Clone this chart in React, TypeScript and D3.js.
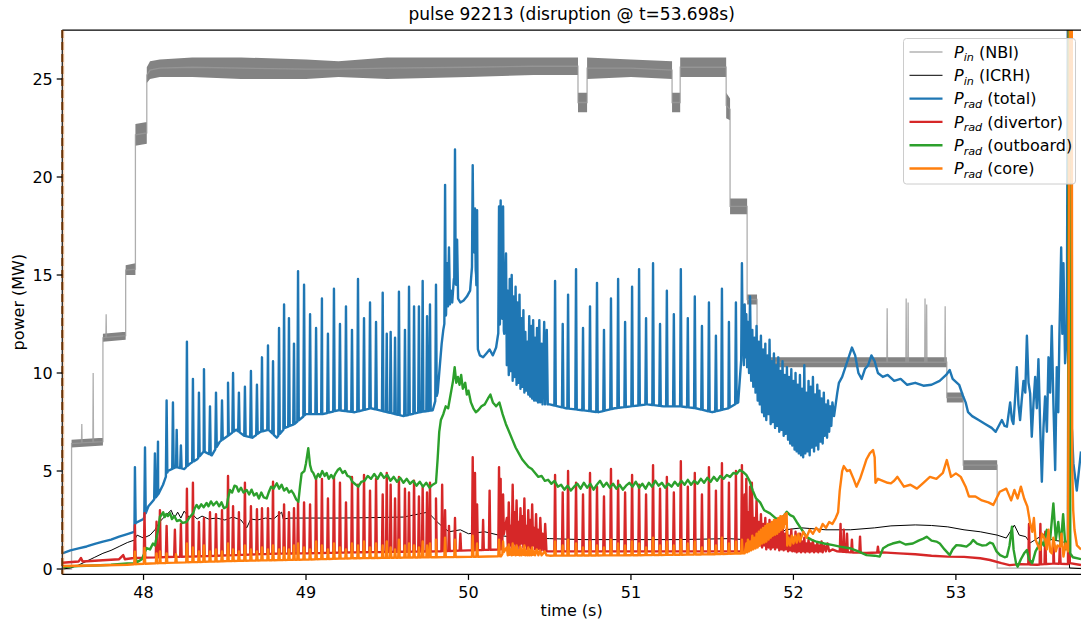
import React from "react";
import * as d3 from "d3";

type P = [number, number];

// ---------------- data ----------------
const title = "pulse 92213 (disruption @ t=53.698s)";
const xTicks = [48, 49, 50, 51, 52, 53];
const yTicks = [0, 5, 10, 15, 20, 25];

// NBI: [t, low, high] envelope of the modulated signal
const nbiBand: [number, number, number][] = [
  [47.5, 0, 0], [47.557, 0, 0], [47.557, 6.2, 6.6], [47.75, 6.3, 6.7],
  [47.75, 11.6, 12.0], [47.89, 11.7, 12.1], [47.89, 15.0, 15.5], [47.95, 15.0, 15.6],
  [47.95, 21.6, 22.7], [48.02, 21.7, 22.8], [48.02, 24.8, 25.6], [48.04, 25.0, 25.9],
  [48.1, 25.1, 26.0], [48.3, 25.1, 26.1], [48.6, 25.0, 26.1], [49.0, 25.0, 26.0],
  [49.2, 25.1, 25.9], [49.5, 25.0, 26.1], [50.0, 25.1, 26.1], [50.4, 25.2, 26.1],
  [50.674, 25.2, 26.1], [50.674, 23.3, 24.3], [50.73, 23.3, 24.3], [50.73, 25.0, 26.1],
  [51.0, 25.1, 26.0], [51.253, 25.0, 25.9], [51.253, 23.3, 24.3], [51.303, 23.3, 24.3],
  [51.303, 25.1, 26.1], [51.586, 25.1, 26.1], [51.586, 23.0, 24.3], [51.61, 22.9, 24.0],
  [51.61, 18.1, 18.9], [51.715, 18.1, 18.9], [51.715, 13.5, 14.0], [51.776, 13.5, 14.0],
  [51.776, 10.3, 10.8], [52.944, 10.3, 10.8], [52.944, 8.5, 9.0], [53.045, 8.5, 9.0],
  [53.045, 5.05, 5.55], [53.254, 5.05, 5.55], [53.254, 0.05, 0.05], [53.77, 0.05, 0.05],
];
const nbiSpikes: P[] = [
  [47.62, 7.4], [47.69, 10.0], [47.77, 13.0], [52.577, 13.3], [52.694, 13.8],
  [52.706, 13.6], [52.81, 13.8], [52.82, 13.5], [52.934, 13.4],
];

const icrh: P[] = [
  [47.5, 0.0], [47.55, 0.05], [47.6, 0.2], [47.65, 0.4], [47.7, 0.6], [47.75, 0.8], [47.8, 0.95],
  [47.85, 1.15], [47.9, 1.35], [47.945, 1.48], [47.96, 1.73], [48.0, 1.58], [48.04, 1.73],
  [48.07, 2.0], [48.1, 2.41], [48.14, 2.76], [48.17, 3.0], [48.19, 2.6], [48.21, 2.9],
  [48.23, 2.6], [48.25, 2.95], [48.28, 2.65], [48.3, 2.8], [48.33, 2.55], [48.36, 2.7],
  [48.4, 2.55], [48.45, 2.6], [48.5, 2.5], [48.55, 2.65], [48.6, 2.5], [48.635, 2.1],
  [48.66, 2.55], [48.7, 2.5], [48.75, 2.6], [48.8, 2.55], [48.85, 2.9], [48.86, 2.55],
  [48.9, 2.6], [49.0, 2.6], [49.2, 2.6], [49.4, 2.62], [49.6, 2.65], [49.75, 2.9],
  [49.82, 2.3], [49.88, 1.9], [49.95, 2.0], [50.0, 1.8], [50.1, 1.9], [50.2, 1.7],
  [50.3, 1.6], [50.5, 1.55], [50.7, 1.5], [51.0, 1.5], [51.3, 1.5], [51.6, 1.55],
  [51.7, 1.5], [51.9, 1.6], [51.95, 2.0], [52.05, 2.1], [52.2, 2.0], [52.35, 2.0],
  [52.5, 2.1], [52.6, 2.2], [52.75, 2.25], [52.85, 2.22], [52.95, 2.15], [53.05, 2.0],
  [53.15, 1.9], [53.254, 1.73], [53.31, 1.58], [53.36, 2.24], [53.39, 1.73], [53.43, 1.65],
  [53.457, 1.33], [53.518, 1.65], [53.55, 1.83], [53.59, 1.48], [53.66, 1.4], [53.69, 1.14],
  [53.70, 0.05], [53.77, 0.02],
];

// regular ELM times with the peak of each radiated-power channel
const elmTimes = [
  48.267, 48.304, 48.341, 48.372, 48.409, 48.446, 48.483, 48.52, 48.551, 48.587, 48.624,
  48.661, 48.698, 48.729, 48.766, 48.797, 48.834, 48.865, 48.895, 48.926, 48.951, 48.988,
  49.025, 49.062, 49.098, 49.135, 49.172, 49.209, 49.246, 49.283, 49.32, 49.357, 49.394,
  49.431, 49.472, 49.497, 49.521, 49.548, 49.572, 49.609, 49.634, 49.665, 49.695, 49.718,
  49.745, 49.763, 49.8, 50.533, 50.58, 50.613, 50.662, 50.705, 50.748, 50.791, 50.834,
  50.877, 50.921, 50.964, 51.007, 51.05, 51.093, 51.136, 51.179, 51.221, 51.264, 51.307,
  51.35, 51.393, 51.437, 51.48, 51.523, 51.56, 51.603, 51.646, 51.683,
];
const blueElmPeak = [
  11.6, 9.7, 9.0, 10.2, 8.3, 9.0, 8.6, 9.5, 10.0, 9.0, 9.3, 10.1, 9.4, 10.8, 11.4, 10.6,
  12.3, 13.5, 12.8, 11.5, 15.2, 14.5, 13.0, 12.3, 13.8, 12.0, 14.3, 12.5, 13.4, 12.2, 14.8,
  12.8, 13.6, 12.6, 14.1, 12.0, 12.1, 11.8, 14.15, 12.2, 14.4, 13.4, 13.4, 14.7, 12.9, 13.5,
  14.5, 14.7, 12.5, 14.0, 15.3, 12.3, 13.4, 14.6, 12.2, 13.8, 14.8, 12.6, 14.4, 15.3, 12.8,
  15.6, 12.5, 14.2, 13.0, 15.3, 12.8, 13.9, 12.4, 13.6, 11.9, 14.3, 12.6, 13.6, 15.6,
];
const redElmPeak = [
  4.1, 4.4, 2.4, 2.6, 2.9, 2.8, 3.0, 4.75, 3.2, 2.9, 4.4, 3.2, 3.05, 3.1, 3.1, 4.45, 2.9,
  3.3, 2.9, 3.1, 3.4, 3.4, 3.3, 4.7, 4.6, 3.6, 4.7, 4.4, 3.4, 4.7, 4.3, 4.8, 4.0, 4.6, 3.8,
  4.9, 4.3, 3.6, 4.7, 4.1, 3.9, 4.5, 3.7, 4.2, 3.9, 4.4, 3.6, 4.8, 3.9, 5.0, 4.4, 3.8, 4.9,
  4.2, 3.7, 5.1, 4.5, 3.9, 4.8, 4.3, 3.8, 5.3, 4.1, 4.7, 3.9, 5.5, 4.2, 4.9, 3.8, 5.2, 4.0,
  5.4, 4.4, 5.0, 5.3,
];
const orangeElmPeak = [
  1.3, 1.1, 0.9, 1.2, 0.9, 1.0, 0.9, 1.3, 1.0, 0.9, 1.2, 1.0, 0.9, 1.1, 1.0, 1.2, 1.0, 1.1,
  1.0, 1.2, 1.3, 1.1, 1.0, 1.4, 1.2, 1.0, 1.3, 1.1, 1.0, 1.3, 1.2, 1.4, 1.1, 1.3, 1.2, 1.4,
  1.1, 1.0, 1.5, 1.2, 1.3, 1.2, 1.1, 1.4, 1.2, 1.3, 1.5, 1.4, 1.2, 1.5, 1.3, 1.1, 1.4, 1.2,
  1.1, 1.5, 1.3, 1.2, 1.4, 1.3, 1.1, 1.6, 1.2, 1.4, 1.2, 1.5, 1.3, 1.4, 1.1, 1.5, 1.2, 1.6,
  1.3, 1.4, 1.5,
];

// other individual spikes
const blueExtraSpikes: P[] = [
  [47.947, 5.2], [48.009, 6.2], [48.07, 5.9], [48.089, 6.5], [48.142, 8.6], [48.181, 8.5],
  [48.204, 7.1], [48.23, 6.3], [49.856, 19.6], [49.917, 21.4], [50.026, 20.6], [50.04, 18.4],
  [50.053, 18.3], [50.188, 18.5], [50.198, 18.8], [50.213, 18.5],
];
const redExtraSpikes: P[] = [
  [47.947, 2.24], [48.006, 2.85], [48.08, 2.41], [48.101, 3.0], [48.142, 2.2], [48.193, 2.0],
  [48.23, 2.3], [49.838, 4.3], [49.856, 3.0], [49.88, 2.2], [49.917, 2.6], [49.95, 1.8],
  [50.026, 5.7], [50.04, 4.9], [50.053, 3.3], [50.09, 2.5], [50.13, 4.0], [50.188, 5.2],
  [50.198, 4.6], [50.213, 3.8], [51.744, 4.4], [52.29, 2.3], [52.31, 2.0], [52.33, 1.8],
  [52.36, 1.5], [52.41, 1.65], [52.52, 1.14], [53.45, 2.3], [53.52, 2.3], [53.55, 1.9],
  [53.6, 1.5], [53.64, 1.2],
];
const orangeExtraSpikes: P[] = [
  [47.947, 0.88], [48.006, 1.07], [48.08, 0.8], [48.101, 0.9], [48.142, 0.8], [48.2, 0.75],
  [49.856, 1.6], [49.917, 1.5], [50.026, 1.7], [50.053, 1.3], [50.188, 1.5], [50.213, 1.4],
];

const blueBase: P[] = [
  [47.5, 0.8], [47.55, 0.95], [47.6, 1.05], [47.65, 1.15], [47.7, 1.28], [47.75, 1.4],
  [47.8, 1.5], [47.85, 1.65], [47.9, 1.78], [47.944, 1.9], [47.952, 2.35], [48.0, 2.55],
  [48.03, 3.2], [48.06, 3.5], [48.09, 3.8], [48.12, 4.3], [48.15, 5.0], [48.2, 5.2],
  [48.25, 5.1], [48.29, 5.4], [48.33, 5.6], [48.37, 6.0], [48.42, 5.8], [48.47, 6.5],
  [48.52, 6.8], [48.57, 7.1], [48.62, 6.8], [48.67, 6.7], [48.72, 7.0], [48.77, 7.1],
  [48.82, 6.7], [48.87, 7.2], [48.93, 7.4], [49.0, 7.9], [49.1, 7.9], [49.2, 8.1], [49.3, 8.0],
  [49.4, 8.2], [49.5, 8.0], [49.6, 7.8], [49.7, 8.0], [49.78, 8.1], [49.81, 9.0], [49.825, 10.5],
  [49.835, 11.5], [49.845, 12.2], [49.862, 13.0], [49.868, 15.6], [49.874, 13.4], [49.88, 16.4],
  [49.886, 13.5], [49.892, 14.2], [49.9, 13.6], [49.91, 14.8], [49.924, 14.5], [49.93, 16.8],
  [49.936, 13.8], [49.95, 13.6], [49.97, 13.7], [49.99, 13.9], [50.01, 14.2], [50.032, 16.5],
  [50.047, 15.0], [50.058, 11.2], [50.07, 10.9], [50.09, 10.8], [50.11, 11.0], [50.13, 11.2],
  [50.15, 10.9], [50.17, 11.3], [50.18, 11.85], [50.193, 12.5], [50.205, 13.0], [50.22, 12.0],
  [50.231, 16.1], [50.236, 10.4], [50.242, 14.2], [50.248, 9.9], [50.254, 14.8], [50.26, 10.1],
  [50.266, 15.0], [50.272, 9.6], [50.278, 13.9], [50.284, 9.8], [50.29, 14.4], [50.296, 9.4],
  [50.302, 13.6], [50.308, 9.5], [50.314, 14.0], [50.32, 9.2], [50.326, 12.8], [50.332, 9.3],
  [50.338, 13.2], [50.344, 9.0], [50.35, 12.1], [50.356, 9.1], [50.362, 11.6], [50.368, 8.9],
  [50.374, 12.9], [50.38, 8.8], [50.386, 12.4], [50.392, 8.7], [50.398, 12.7], [50.404, 8.6],
  [50.41, 11.8], [50.416, 8.6], [50.422, 12.3], [50.428, 8.5], [50.436, 12.7], [50.442, 8.5],
  [50.45, 11.5], [50.456, 8.4], [50.466, 12.6], [50.472, 8.4], [50.482, 12.2], [50.488, 8.4],
  [50.5, 8.4], [50.6, 8.2], [50.7, 8.1], [50.8, 8.0], [50.9, 8.2], [51.0, 8.3], [51.1, 8.4],
  [51.2, 8.3], [51.3, 8.3], [51.4, 8.2], [51.5, 8.0], [51.6, 8.2], [51.66, 8.5], [51.69, 12.0],
  [51.695, 10.4], [51.7, 13.5], [51.705, 10.8], [51.71, 13.0], [51.715, 10.3], [51.72, 12.6],
  [51.727, 10.0], [51.733, 13.9], [51.74, 9.6], [51.747, 12.2], [51.753, 9.3], [51.76, 11.8],
  [51.767, 9.0], [51.773, 12.4], [51.78, 8.6], [51.787, 11.6], [51.793, 8.4], [51.8, 11.9],
  [51.807, 8.0], [51.813, 11.2], [51.82, 7.8], [51.827, 11.5], [51.833, 7.6], [51.84, 10.9],
  [51.847, 7.9], [51.853, 11.7], [51.86, 7.4], [51.867, 10.6], [51.873, 7.5], [51.88, 11.0],
  [51.887, 7.2], [51.893, 10.4], [51.9, 7.3], [51.907, 10.8], [51.913, 7.0], [51.92, 10.1],
  [51.927, 7.1], [51.933, 10.6], [51.94, 6.8], [51.947, 9.9], [51.953, 6.9], [51.96, 10.3],
  [51.967, 6.6], [51.973, 9.8], [51.98, 6.4], [51.987, 10.2], [51.993, 6.3], [52.0, 9.6],
  [52.007, 6.1], [52.013, 10.0], [52.02, 6.0], [52.027, 9.4], [52.033, 5.9], [52.04, 9.9],
  [52.047, 5.8], [52.053, 9.2], [52.06, 5.7], [52.067, 10.4], [52.073, 5.9], [52.08, 9.0],
  [52.087, 6.0], [52.093, 9.6], [52.1, 5.8], [52.107, 9.3], [52.113, 6.2], [52.12, 9.8],
  [52.127, 6.0], [52.133, 8.9], [52.14, 6.3], [52.147, 9.4], [52.153, 6.1], [52.16, 9.1],
  [52.167, 6.5], [52.173, 8.7], [52.18, 6.4], [52.187, 9.0], [52.193, 6.8], [52.2, 8.4],
  [52.207, 6.7], [52.213, 8.6], [52.22, 7.0], [52.227, 8.3], [52.233, 7.3], [52.24, 8.5],
  [52.25, 7.8], [52.26, 8.4], [52.27, 9.0], [52.28, 9.5], [52.3, 9.8], [52.32, 10.3],
  [52.34, 10.8], [52.36, 11.3], [52.38, 10.9], [52.4, 10.0], [52.42, 9.7], [52.44, 10.2],
  [52.46, 10.4], [52.48, 10.9], [52.5, 10.6], [52.52, 10.0], [52.55, 9.8], [52.58, 9.9],
  [52.62, 9.6], [52.66, 9.7], [52.7, 9.4], [52.75, 9.5], [52.8, 9.35], [52.85, 9.4],
  [52.9, 9.6], [52.94, 9.9], [52.962, 10.15], [52.98, 9.7], [53.02, 9.4], [53.045, 8.8],
  [53.06, 8.5], [53.075, 8.0], [53.1, 7.8], [53.14, 7.6], [53.18, 7.4], [53.22, 7.2],
  [53.245, 7.0], [53.27, 7.4], [53.283, 7.6], [53.3, 7.3], [53.314, 7.26], [53.334, 8.5],
  [53.345, 7.6], [53.354, 7.4], [53.365, 8.8], [53.375, 10.3], [53.385, 8.4], [53.395, 7.6],
  [53.405, 8.6], [53.416, 9.6], [53.427, 9.0], [53.437, 11.9], [53.447, 9.5], [53.457, 8.96],
  [53.467, 6.75], [53.478, 8.5], [53.488, 9.8], [53.498, 8.2], [53.508, 10.7], [53.518, 7.5],
  [53.529, 4.45], [53.539, 7.2], [53.549, 8.8], [53.56, 7.0], [53.57, 10.8], [53.58, 9.0],
  [53.59, 12.4], [53.6, 8.5], [53.611, 5.05], [53.621, 10.3], [53.63, 8.0], [53.637, 11.85],
  [53.648, 16.4], [53.655, 12.0], [53.662, 15.6], [53.672, 10.5], [53.683, 12.2],
  [53.693, 40], [53.699, 40], [53.706, 8.0], [53.715, 7.0], [53.723, 5.4], [53.744, 4.0],
  [53.77, 6.0],
];

const redBase: P[] = [
  [47.5, 0.32], [47.6, 0.38], [47.615, 0.56], [47.625, 0.38], [47.75, 0.45], [47.85, 0.5],
  [47.875, 0.71], [47.885, 0.5], [47.94, 0.56], [48.0, 0.58], [48.2, 0.62], [48.4, 0.66],
  [48.6, 0.72], [48.8, 0.78], [49.0, 0.8], [49.3, 0.85], [49.6, 0.88], [49.8, 0.9],
  [50.0, 0.95], [50.2, 1.0], [50.236, 2.6], [50.242, 1.1], [50.248, 3.4], [50.254, 1.2],
  [50.26, 2.2], [50.266, 1.0], [50.272, 4.3], [50.278, 1.3], [50.284, 2.9], [50.29, 1.1],
  [50.296, 3.5], [50.302, 1.2], [50.308, 2.4], [50.314, 1.0], [50.32, 3.1], [50.326, 1.3],
  [50.332, 2.7], [50.338, 1.1], [50.344, 3.6], [50.35, 1.2], [50.356, 2.2], [50.362, 1.0],
  [50.368, 3.0], [50.374, 1.1], [50.38, 2.5], [50.386, 1.0], [50.392, 3.3], [50.398, 1.2],
  [50.404, 2.1], [50.41, 1.0], [50.416, 2.8], [50.422, 1.0], [50.428, 2.0], [50.436, 1.0],
  [50.442, 2.6], [50.45, 0.95], [50.456, 1.8], [50.466, 0.95], [50.472, 2.3], [50.48, 0.9],
  [50.5, 0.9], [51.0, 0.9], [51.5, 0.9], [51.69, 0.9], [51.7, 3.8], [51.705, 1.0], [51.71, 4.6],
  [51.715, 1.1], [51.72, 2.9], [51.727, 1.2], [51.733, 4.2], [51.74, 1.3], [51.747, 3.1],
  [51.753, 1.2], [51.76, 2.6], [51.767, 1.3], [51.773, 3.5], [51.78, 1.2], [51.787, 2.4],
  [51.793, 1.2], [51.8, 2.8], [51.807, 1.1], [51.813, 2.3], [51.82, 1.2], [51.827, 2.6],
  [51.833, 1.0], [51.84, 2.2], [51.847, 1.1], [51.853, 2.5], [51.86, 1.0], [51.867, 2.1],
  [51.873, 1.1], [51.88, 2.4], [51.887, 1.0], [51.893, 2.0], [51.9, 1.1], [51.907, 2.3],
  [51.913, 0.95], [51.92, 1.9], [51.927, 1.0], [51.933, 2.2], [51.94, 0.95], [51.947, 1.8],
  [51.953, 1.0], [51.96, 2.1], [51.967, 0.9], [51.973, 1.7], [51.98, 0.95], [51.987, 2.0],
  [51.993, 0.9], [52.0, 1.6], [52.007, 0.9], [52.013, 1.9], [52.02, 0.85], [52.027, 1.5],
  [52.033, 0.9], [52.04, 1.8], [52.047, 0.85], [52.053, 1.4], [52.06, 0.9], [52.067, 1.6],
  [52.073, 0.85], [52.08, 1.3], [52.087, 0.9], [52.093, 1.5], [52.1, 0.85], [52.107, 1.3],
  [52.113, 0.9], [52.12, 1.45], [52.127, 0.85], [52.133, 1.2], [52.14, 0.9], [52.147, 1.35],
  [52.153, 0.85], [52.16, 1.2], [52.167, 0.9], [52.173, 1.4], [52.18, 0.85], [52.19, 1.2],
  [52.2, 0.9], [52.21, 1.3], [52.22, 0.9], [52.24, 1.0], [52.27, 0.9], [52.35, 0.85],
  [52.45, 0.82], [52.55, 0.85], [52.65, 0.8], [52.75, 0.75], [52.85, 0.68], [52.95, 0.63],
  [53.05, 0.62], [53.15, 0.55], [53.21, 0.46], [53.28, 0.3], [53.33, 0.2], [53.4, 0.25],
  [53.5, 0.22], [53.6, 0.28], [53.69, 0.25], [53.695, 40], [53.698, 40], [53.701, 0.3],
  [53.77, 0.2],
];

const greenLine: P[] = [
  [47.5, 0.1], [47.6, 0.15], [47.7, 0.18], [47.8, 0.22], [47.9, 0.28], [47.945, 0.3],
  [47.95, 0.55], [47.96, 0.35], [47.99, 0.5], [48.01, 0.9], [48.019, 1.07], [48.04, 1.0],
  [48.058, 1.3], [48.07, 1.2], [48.081, 1.65], [48.09, 2.0], [48.101, 2.67], [48.11, 2.75],
  [48.121, 2.9], [48.13, 2.65], [48.14, 2.8], [48.15, 2.7], [48.163, 2.85], [48.175, 2.55],
  [48.19, 2.7], [48.205, 2.45], [48.224, 2.5], [48.24, 2.35], [48.265, 2.4], [48.28, 2.6],
  [48.306, 2.85], [48.315, 3.1], [48.327, 3.27], [48.34, 3.1], [48.355, 3.3], [48.37, 3.15],
  [48.388, 3.37], [48.4, 3.2], [48.415, 3.45], [48.43, 3.25], [48.45, 3.43], [48.465, 3.2],
  [48.48, 3.4], [48.495, 3.1], [48.512, 3.18], [48.52, 3.6], [48.532, 4.03], [48.545, 3.9],
  [48.56, 4.25], [48.573, 4.2], [48.585, 3.95], [48.6, 4.15], [48.615, 3.9], [48.635, 4.03],
  [48.65, 3.8], [48.665, 4.05], [48.68, 3.75], [48.696, 3.87], [48.71, 3.6], [48.725, 3.9],
  [48.74, 3.65], [48.758, 3.6], [48.77, 3.9], [48.785, 4.2], [48.8, 4.1], [48.82, 4.37],
  [48.835, 4.1], [48.85, 4.3], [48.865, 4.0], [48.881, 4.13], [48.895, 3.9], [48.91, 4.0],
  [48.922, 3.86], [48.94, 3.55], [48.953, 3.43], [48.963, 4.2], [48.973, 4.88], [48.99, 5.0],
  [49.0, 5.4], [49.014, 6.16], [49.025, 5.3], [49.035, 5.0], [49.045, 4.9], [49.06, 4.6],
  [49.075, 4.85], [49.086, 4.7], [49.1, 5.0], [49.115, 4.75], [49.127, 4.9], [49.14, 4.6],
  [49.155, 4.8], [49.168, 4.63], [49.18, 4.85], [49.195, 5.05], [49.209, 5.14], [49.225, 4.9],
  [49.24, 5.0], [49.255, 4.75], [49.271, 4.7], [49.285, 4.45], [49.3, 4.35], [49.322, 4.2],
  [49.34, 4.45], [49.36, 4.5], [49.38, 4.75], [49.4, 4.6], [49.42, 4.85], [49.44, 4.6],
  [49.46, 4.9], [49.48, 4.65], [49.5, 4.8], [49.52, 4.5], [49.54, 4.7], [49.56, 4.45],
  [49.58, 4.65], [49.6, 4.4], [49.62, 4.6], [49.64, 4.35], [49.66, 4.5], [49.68, 4.25],
  [49.7, 4.45], [49.72, 4.2], [49.74, 4.4], [49.76, 4.15], [49.78, 4.3], [49.8, 4.4],
  [49.81, 5.6], [49.82, 7.0], [49.83, 7.6], [49.845, 7.9], [49.86, 8.3], [49.875, 8.2],
  [49.89, 8.9], [49.905, 9.6], [49.915, 10.3], [49.925, 9.5], [49.935, 9.8], [49.945, 9.4],
  [49.955, 9.9], [49.965, 9.2], [49.98, 9.5], [49.99, 8.9], [50.0, 9.1], [50.015, 8.5],
  [50.03, 8.2], [50.045, 8.0], [50.06, 8.1], [50.08, 8.3], [50.1, 8.4], [50.12, 8.7],
  [50.135, 8.9], [50.15, 8.5], [50.17, 8.3], [50.19, 8.5], [50.21, 7.9], [50.23, 7.4],
  [50.25, 7.0], [50.27, 6.6], [50.29, 6.2], [50.31, 5.9], [50.33, 5.6], [50.35, 5.4],
  [50.37, 5.2], [50.39, 5.1], [50.41, 4.9], [50.43, 4.7], [50.45, 4.75], [50.47, 4.5],
  [50.49, 4.55], [50.51, 4.35], [50.53, 4.5], [50.55, 4.2], [50.57, 4.3], [50.59, 4.05],
  [50.61, 4.25], [50.63, 4.0], [50.65, 4.2], [50.67, 4.35], [50.69, 4.1], [50.71, 4.4],
  [50.73, 4.15], [50.75, 4.35], [50.77, 4.05], [50.79, 4.3], [50.81, 4.5], [50.83, 4.2],
  [50.85, 4.4], [50.87, 4.15], [50.89, 4.35], [50.91, 4.1], [50.93, 4.3], [50.95, 4.05],
  [50.97, 4.25], [50.99, 4.4], [51.01, 4.2], [51.03, 4.45], [51.05, 4.15], [51.07, 4.35],
  [51.09, 4.1], [51.11, 4.4], [51.13, 4.2], [51.15, 4.5], [51.17, 4.25], [51.19, 4.4],
  [51.21, 4.15], [51.23, 4.35], [51.25, 4.2], [51.27, 4.45], [51.29, 4.25], [51.31, 4.5],
  [51.33, 4.3], [51.35, 4.55], [51.37, 4.3], [51.39, 4.5], [51.41, 4.35], [51.43, 4.6],
  [51.45, 4.4], [51.47, 4.65], [51.49, 4.45], [51.51, 4.7], [51.53, 4.5], [51.55, 4.75],
  [51.57, 4.6], [51.59, 4.8], [51.61, 4.7], [51.63, 4.9], [51.65, 4.85], [51.67, 5.05],
  [51.69, 4.95], [51.71, 4.8], [51.73, 4.5], [51.75, 4.0], [51.77, 3.6], [51.795, 3.4],
  [51.82, 3.0], [51.856, 2.84], [51.89, 2.6], [51.918, 2.5], [51.94, 2.7], [51.959, 2.92],
  [51.98, 2.75], [52.0, 2.67], [52.02, 2.4], [52.039, 2.16], [52.06, 1.9], [52.08, 1.65],
  [52.11, 1.5], [52.142, 1.39], [52.19, 1.3], [52.244, 1.22], [52.3, 1.12], [52.347, 1.06],
  [52.4, 0.9], [52.45, 0.71], [52.5, 0.68], [52.531, 0.63], [52.552, 1.06], [52.58, 1.2],
  [52.61, 1.3], [52.655, 1.39], [52.69, 1.25], [52.735, 1.3], [52.77, 1.45], [52.8, 1.55],
  [52.82, 1.65], [52.85, 1.45], [52.88, 1.4], [52.901, 1.3], [52.93, 1.0], [52.962, 0.71],
  [52.98, 1.0], [53.003, 1.22], [53.03, 1.2], [53.065, 1.14], [53.09, 1.3], [53.106, 1.48],
  [53.13, 1.3], [53.16, 1.2], [53.188, 1.22], [53.21, 1.35], [53.227, 1.3], [53.25, 0.9],
  [53.272, 0.71], [53.3, 0.6], [53.314, 0.63], [53.33, 1.2], [53.345, 2.16], [53.355, 1.0],
  [53.37, 0.3], [53.38, 0.12], [53.4, 0.5], [53.42, 0.8], [53.437, 0.97], [53.45, 0.5],
  [53.47, 0.3], [53.49, 0.9], [53.51, 1.2], [53.52, 1.48], [53.54, 1.2], [53.56, 2.0],
  [53.58, 1.5], [53.6, 3.35], [53.615, 1.5], [53.63, 2.4], [53.645, 1.2], [53.66, 2.8],
  [53.675, 1.0], [53.69, 1.5], [53.697, 40], [53.7, 40], [53.704, 0.8], [53.72, 0.6],
  [53.77, 0.5],
];

const orangeBase: P[] = [
  [47.5, 0.15], [47.7, 0.18], [47.9, 0.22], [47.96, 0.25], [48.1, 0.3], [48.3, 0.35],
  [48.6, 0.42], [49.0, 0.48], [49.3, 0.55], [49.6, 0.58], [49.8, 0.6], [50.0, 0.62],
  [50.2, 0.65], [50.236, 1.1], [50.242, 0.7], [50.248, 1.25], [50.254, 0.72], [50.26, 1.0],
  [50.266, 0.7], [50.272, 1.3], [50.278, 0.72], [50.284, 1.1], [50.29, 0.7], [50.296, 1.2],
  [50.302, 0.72], [50.308, 0.95], [50.314, 0.7], [50.32, 1.15], [50.326, 0.7], [50.332, 1.0],
  [50.338, 0.72], [50.344, 1.2], [50.35, 0.7], [50.356, 0.9], [50.362, 0.7], [50.368, 1.1],
  [50.374, 0.7], [50.38, 0.95], [50.386, 0.7], [50.392, 1.1], [50.398, 0.72], [50.404, 0.9],
  [50.41, 0.7], [50.42, 1.0], [50.43, 0.7], [50.44, 0.95], [50.45, 0.7], [50.47, 0.9],
  [50.48, 0.7], [50.5, 0.68], [51.0, 0.7], [51.5, 0.75], [51.7, 0.8], [51.71, 1.3],
  [51.715, 0.85], [51.72, 1.5], [51.727, 0.9], [51.733, 1.4], [51.74, 0.95], [51.747, 1.7],
  [51.753, 1.0], [51.76, 1.6], [51.767, 1.05], [51.773, 1.8], [51.78, 1.1], [51.787, 1.9],
  [51.793, 1.2], [51.8, 2.0], [51.807, 1.3], [51.813, 2.1], [51.82, 1.35], [51.827, 2.2],
  [51.833, 1.4], [51.84, 2.3], [51.847, 1.5], [51.853, 2.3], [51.86, 1.6], [51.867, 2.4],
  [51.873, 1.7], [51.88, 2.5], [51.887, 1.75], [51.893, 2.5], [51.9, 1.8], [51.907, 2.6],
  [51.913, 1.9], [51.92, 2.7], [51.927, 2.0], [51.933, 2.7], [51.94, 2.1], [51.947, 2.8],
  [51.953, 2.3], [51.958, 2.85], [51.962, 1.2], [51.97, 1.6], [51.98, 1.2], [51.99, 1.7],
  [52.0, 1.3], [52.01, 1.7], [52.02, 1.35], [52.03, 1.8], [52.04, 1.4], [52.06, 1.9],
  [52.08, 1.6], [52.1, 2.0], [52.12, 1.8], [52.14, 2.1], [52.16, 1.9], [52.18, 2.3],
  [52.2, 2.1], [52.22, 2.4], [52.24, 2.3], [52.26, 2.6], [52.275, 2.9], [52.285, 4.0],
  [52.3, 5.0], [52.31, 5.25], [52.33, 5.0], [52.347, 5.05], [52.37, 4.6], [52.388, 4.2],
  [52.41, 4.6], [52.43, 5.1], [52.45, 5.6], [52.47, 5.9], [52.49, 6.07], [52.5, 5.7],
  [52.505, 4.4], [52.52, 4.6], [52.55, 4.5], [52.58, 4.4], [52.6, 4.37], [52.62, 4.5],
  [52.64, 4.7], [52.68, 4.2], [52.72, 4.3], [52.76, 4.1], [52.8, 4.4], [52.84, 4.7],
  [52.88, 4.6], [52.92, 4.9], [52.944, 5.56], [52.97, 4.7], [53.0, 4.88], [53.03, 4.7],
  [53.06, 4.2], [53.08, 3.7], [53.12, 3.7], [53.16, 3.5], [53.2, 3.4], [53.23, 3.27],
  [53.27, 3.94], [53.31, 4.1], [53.34, 3.5], [53.36, 4.03], [53.38, 3.6], [53.4, 4.2],
  [53.42, 3.6], [53.44, 3.18], [53.457, 2.33], [53.47, 1.9], [53.48, 2.6], [53.49, 1.5],
  [53.5, 1.3], [53.518, 0.97], [53.53, 1.8], [53.549, 1.5], [53.56, 1.0], [53.57, 2.0],
  [53.58, 0.9], [53.59, 0.8], [53.6, 1.6], [53.615, 0.9], [53.625, 1.2], [53.642, 1.14],
  [53.65, 1.8], [53.662, 0.63], [53.675, 1.3], [53.69, 0.9], [53.706, 40], [53.712, 40],
  [53.716, 5.2], [53.722, 3.0], [53.73, 2.0], [53.745, 1.2], [53.77, 1.0],
];

// ---------------- helpers ----------------
const W = 1081;
const H = 622;
const PL = 62.3;
const PR = 1081;
const PT = 30;
const PB = 574.3;

const x = d3.scaleLinear().domain([47.5, 53.77]).range([PL, PR]);
const y = d3.scaleLinear().domain([-0.27, 27.5]).range([PB, PT]);

function withSpikes(base: P[], spikes: P[], w = 0.0045): P[] {
  const interp = d3
    .scaleLinear()
    .domain(base.map((d) => d[0]))
    .range(base.map((d) => d[1]))
    .clamp(true);
  const pts: P[] = base.map((d) => [d[0], d[1]] as P);
  for (const [t, v] of spikes) {
    pts.push([t - w, interp(t - w)], [t, v], [t + w, interp(t + w)]);
  }
  pts.sort((a, b) => a[0] - b[0]);
  return pts;
}

const line = d3
  .line<P>()
  .x((d) => x(d[0]))
  .y((d) => y(d[1]));

const nbiArea = d3
  .area<[number, number, number]>()
  .x((d) => x(d[0]))
  .y0((d) => y(d[1]))
  .y1((d) => y(d[2]));

const FONT = "DejaVu Sans, Verdana, sans-serif";

const legendItems = [
  { sub: "in", rest: "NBI", color: "#b3b3b3", w: 1.5 },
  { sub: "in", rest: "ICRH", color: "#000000", w: 1.0 },
  { sub: "rad", rest: "total", color: "#1f77b4", w: 2.4 },
  { sub: "rad", rest: "divertor", color: "#d62728", w: 2.4 },
  { sub: "rad", rest: "outboard", color: "#2ca02c", w: 2.4 },
  { sub: "rad", rest: "core", color: "#ff7f0e", w: 2.4 },
];

export default function App() {
  const blueSpikes: P[] = elmTimes.map((t, i) => [t, blueElmPeak[i]] as P).concat(blueExtraSpikes);
  const redSpikes: P[] = elmTimes.map((t, i) => [t, redElmPeak[i]] as P).concat(redExtraSpikes);
  const orangeSpikes: P[] = elmTimes
    .map((t, i) => [t, orangeElmPeak[i]] as P)
    .concat(orangeExtraSpikes);

  const nbiMid: P[] = nbiBand.map((d) => [d[0], (d[1] + d[2]) / 2] as P);
  const nbiPath = withSpikes(nbiMid, nbiSpikes, 0.002);
  const bluePath = withSpikes(blueBase, blueSpikes);
  const redPath = withSpikes(redBase, redSpikes);
  const orangePath = withSpikes(orangeBase, orangeSpikes);

  const lgX = 903.5;
  const lgY = 38.5;
  const lgW = 172;
  const lgH = 145.5;
  const rowH = 23.3;

  return (
    <svg
      width={W}
      height={H}
      style={{ position: "absolute", left: 0, top: 0, background: "#fff" }}
      fontFamily={FONT}
    >
      <defs>
        <clipPath id="plotclip">
          <rect x={PL} y={PT} width={PR - PL} height={PB - PT} />
        </clipPath>
      </defs>
      <rect x={0} y={0} width={W} height={H} fill="#fff" />

      <g clipPath="url(#plotclip)">
        <path d={nbiArea(nbiBand) || ""} fill="#838383" stroke="none" />
        <path d={line(nbiPath) || ""} fill="none" stroke="#9a9a9a" strokeWidth={1.3} opacity={0.8} />
        <path d={line(icrh) || ""} fill="none" stroke="#000" strokeWidth={1.0} />
        <path d={line(bluePath) || ""} fill="none" stroke="#1f77b4" strokeWidth={2.4} strokeLinejoin="round" />
        <path d={line(redPath) || ""} fill="none" stroke="#d62728" strokeWidth={2.4} strokeLinejoin="round" />
        <path d={line(greenLine) || ""} fill="none" stroke="#2ca02c" strokeWidth={2.4} strokeLinejoin="round" />
        <path d={line(orangePath) || ""} fill="none" stroke="#ff7f0e" strokeWidth={2.4} strokeLinejoin="round" />
      </g>

      {/* left marker line at start of window */}
      <line x1={PL + 1.5} x2={PL + 1.5} y1={PT} y2={PB} stroke="#ff7f0e" strokeWidth={1} opacity={0.35} />

      {/* spines */}
      <line x1={PL} x2={PR} y1={PT} y2={PT} stroke="#000" strokeWidth={1.25} />
      <line x1={PL} x2={PR} y1={PB} y2={PB} stroke="#000" strokeWidth={1.25} />
      <line x1={PL} x2={PL} y1={PT} y2={PB} stroke="#333" strokeWidth={1.4} />
      <line
        x1={PL}
        x2={PL}
        y1={PT}
        y2={PB}
        stroke="#6b3305"
        strokeWidth={2}
        strokeDasharray="8,4"
      />

      {/* x ticks */}
      {xTicks.map((t) => (
        <g key={"xt" + t}>
          <line x1={x(t)} x2={x(t)} y1={PB} y2={PB + 5.6} stroke="#000" strokeWidth={1.25} />
          <text x={x(t)} y={PB + 24} fontSize={16} textAnchor="middle" fill="#000">
            {t}
          </text>
        </g>
      ))}
      {/* y ticks */}
      {yTicks.map((v) => (
        <g key={"yt" + v}>
          <line x1={PL - 5.6} x2={PL} y1={y(v)} y2={y(v)} stroke="#000" strokeWidth={1.25} />
          <text x={PL - 9.5} y={y(v)} dy="0.36em" fontSize={16} textAnchor="end" fill="#000">
            {v}
          </text>
        </g>
      ))}

      {/* labels */}
      <text x={(PL + PR) / 2} y={616} fontSize={16} textAnchor="middle" fill="#000">
        time (s)
      </text>
      <text
        transform={`translate(18, ${(PT + PB) / 2}) rotate(-90)`}
        dy="0.36em"
        fontSize={16}
        textAnchor="middle"
        fill="#000"
      >
        power (MW)
      </text>
      <text x={(PL + PR) / 2} y={20} fontSize={17} textAnchor="middle" fill="#000">
        {title}
      </text>

      {/* legend */}
      <rect
        x={lgX}
        y={lgY}
        width={lgW}
        height={lgH}
        rx={3}
        ry={3}
        fill="#fff"
        fillOpacity={0.8}
        stroke="#cccccc"
        strokeWidth={1}
      />
      {legendItems.map((it, i) => {
        const cy = lgY + 13.5 + i * rowH;
        return (
          <g key={"lg" + i}>
            <line x1={909.5} x2={942.5} y1={cy} y2={cy} stroke={it.color} strokeWidth={it.w} />
            <text x={954} y={cy + 5.8} fontSize={16} fill="#000" style={{ whiteSpace: "pre" }}>
              <tspan fontStyle="italic">P</tspan>
              <tspan fontStyle="italic" fontSize={11.2} dy={3.6}>
                {it.sub}
              </tspan>
              <tspan dy={-3.6}>{" (" + it.rest + ")"}</tspan>
            </text>
          </g>
        );
      })}
    </svg>
  );
}
